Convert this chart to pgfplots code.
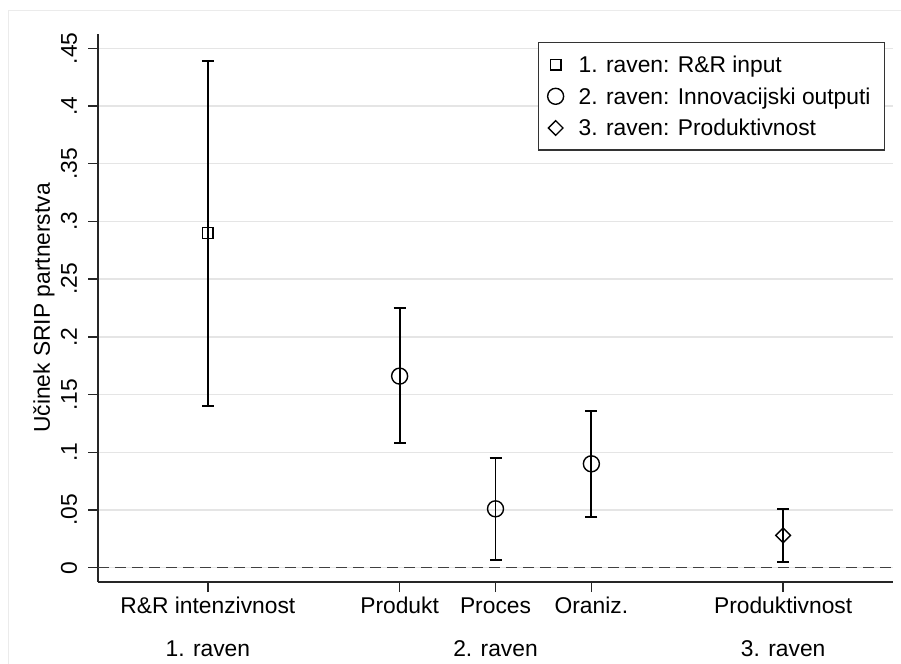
\documentclass[border=0pt]{standalone}
\usepackage{fontspec}
\setmainfont{Liberation Sans}
\usepackage{pgfplots}
\pgfplotsset{compat=1.18}
\usepackage{pgfplotstable}

% Point estimates with lower and upper bounds of the confidence interval
\pgfplotstableread{
x y lo hi
1 0.290 0.140 0.439
}\tabInput
\pgfplotstableread{
x y lo hi
3 0.166 0.108 0.225
4 0.051 0.007 0.095
5 0.090 0.044 0.136
}\tabOutput
\pgfplotstableread{
x y lo hi
7 0.028 0.005 0.051
}\tabProd

\newcommand\chartfont{\fontsize{22.8bp}{27bp}\selectfont}

\pgfplotsset{
  ci/.style={
    only marks, black,
    error bars/y dir=both, error bars/y explicit,
    error bars/error bar style={line width=1.8bp, black},
    error bars/error mark options={rotate=90, mark size=6bp, line width=1.8bp, black},
  },
}

\begin{document}
\begin{tikzpicture}
\useasboundingbox (0,0) rectangle (901bp,664bp);
\draw[black!8, line width=1bp] (8bp,0) -- (8bp,653bp) -- (901bp,653bp);
\begin{axis}[
  at={(98bp,82bp)}, anchor=south west,
  width=795bp, height=548bp, scale only axis,
  xmin=-0.146, xmax=8.146, ymin=-0.0124, ymax=0.4624,
  axis x line*=bottom, axis y line*=left,
  axis line style={line width=1.4bp, black!85, -},
  xtick={1,3,4,5,7},
  xticklabels={R\&R intenzivnost, Produkt, Proces, Oraniz., Produktivnost},
  ytick={0,0.05,0.1,0.15,0.2,0.25,0.3,0.35,0.4,0.45},
  yticklabels={0,.05,.1,.15,.2,.25,.3,.35,.4,.45},
  tick align=outside, major tick length=10bp,
  tick style={line width=1.4bp, black!85},
  ymajorgrids, grid style={line width=1.3bp, black!10},
  tick label style={font=\chartfont},
  xticklabel style={anchor=north, inner sep=0pt, text height=16.3bp, text depth=0pt},
  xticklabel shift=5bp,
  yticklabel style={rotate=90, anchor=south, inner sep=0pt, text depth=0pt},
  yticklabel shift=11bp,
  extra x ticks={1,4,7},
  extra x tick labels={1. raven, 2. raven, 3. raven},
  extra x tick style={major tick length=0pt, grid=none,
    xticklabel style={yshift=-53bp}},
  ylabel={Učinek SRIP partnerstva},
  ylabel style={at={(axis description cs:-0.0679,0.5)}, anchor=center, font=\chartfont},
  legend style={at={(axis description cs:0.5535,0.9854)}, anchor=north west,
    draw=black!80, line width=1.2bp, fill=white,
    inner xsep=8bp, inner ysep=12bp, row sep=11.7bp, column sep=14bp,
    font=\chartfont,
    nodes={inner sep=0pt, text height=18bp, text depth=2bp}},
  legend cell align=left,
  legend image code/.code={
    \path[draw=none, fill=none] (-9bp,-9bp) rectangle (9bp,9bp);
    \draw plot coordinates {(0bp,0bp)};
  },
]
\addplot[forget plot, line width=1.4bp, black!75, dash pattern=on 11bp off 6bp]
  coordinates {(-0.146,0) (8.146,0)};

\addplot[ci, mark=square, mark size=5.3bp,
  mark options={line width=1.4bp, black, solid}]
  table[x=x, y=y, y error plus expr=\thisrow{hi}-\thisrow{y},
        y error minus expr=\thisrow{y}-\thisrow{lo}] {\tabInput};
\addlegendentry{1. raven: R\&R input}

\addplot[ci, mark=o, mark size=8bp,
  mark options={line width=1.4bp, black, solid}]
  table[x=x, y=y, y error plus expr=\thisrow{hi}-\thisrow{y},
        y error minus expr=\thisrow{y}-\thisrow{lo}] {\tabOutput};
\addlegendentry{2. raven: Innovacijski outputi\hspace*{6bp}}

\addplot[ci, mark=square, mark size=5.2bp,
  mark options={line width=1.4bp, black, solid, rotate=45}]
  table[x=x, y=y, y error plus expr=\thisrow{hi}-\thisrow{y},
        y error minus expr=\thisrow{y}-\thisrow{lo}] {\tabProd};
\addlegendentry{3. raven: Produktivnost}
\end{axis}
\end{tikzpicture}
\end{document}
